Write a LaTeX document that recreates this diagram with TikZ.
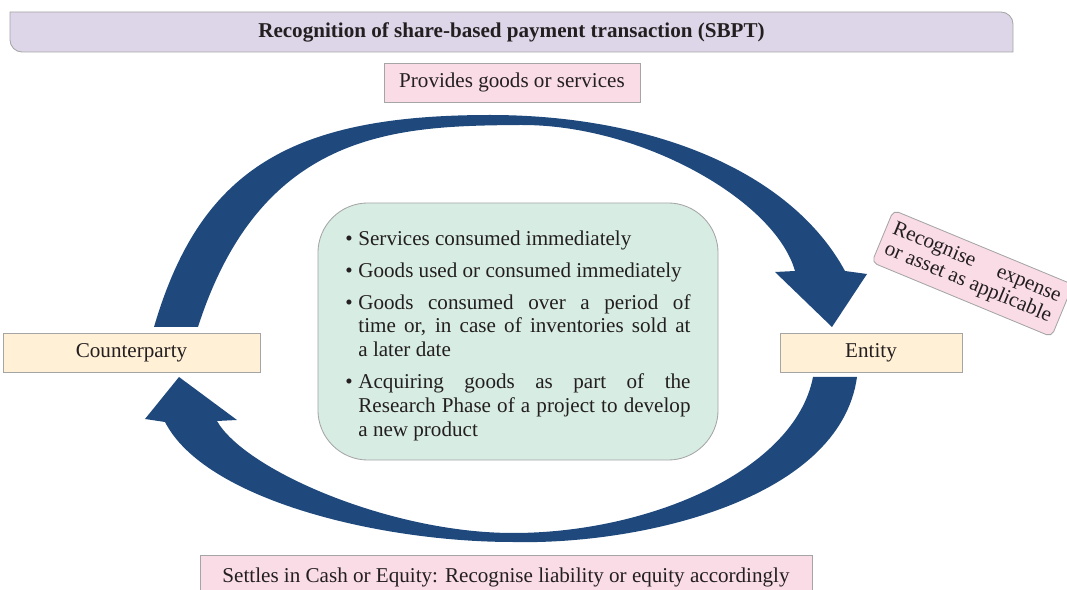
\documentclass[tikz,border=0pt]{standalone}
\usepackage{fontspec}
\setmainfont{Liberation Serif}
\usetikzlibrary{positioning,calc}
\definecolor{ArcBlue}{RGB}{31,73,125}
\definecolor{BarLilac}{RGB}{221,213,232}
\definecolor{NotePink}{RGB}{250,220,231}
\definecolor{PartyCream}{RGB}{255,240,214}
\definecolor{ListGreen}{RGB}{215,236,227}
\definecolor{EdgeGrey}{RGB}{165,165,165}
\definecolor{InkDark}{RGB}{35,31,32}
\newcommand{\boxfont}{\fontsize{15}{17}\selectfont}
\newcommand{\sbitem}[1]{\par\hangindent=9.2pt\hangafter=1\noindent\makebox[9.2pt][l]{\textbullet}#1}
\tikzset{
  barshape/.style={draw=EdgeGrey,fill=BarLilac,line width=0.6pt},
  bartext/.style={font=\boxfont\bfseries,text=InkDark,inner sep=0pt},
  pinkbox/.style={draw=EdgeGrey,fill=NotePink,line width=0.6pt,
                  minimum height=0.975cm,font=\boxfont,text=InkDark,text centered},
  creambox/.style={draw=EdgeGrey,fill=PartyCream,line width=0.6pt,
                   minimum height=0.975cm,font=\boxfont,text=InkDark,text centered},
  listbox/.style={draw=EdgeGrey,fill=ListGreen,line width=0.6pt,rounded corners=1.25cm,
                  minimum width=10cm,minimum height=6.425cm,text width=8.625cm,
                  align=justify,font=\boxfont,text=InkDark},
  notebox/.style={draw=EdgeGrey,fill=NotePink,line width=0.6pt,rounded corners=4pt,
                  text width=4.5cm,inner xsep=0.18cm,minimum height=1.41cm,
                  align=justify,font=\fontsize{15}{15.5}\selectfont,text=InkDark},
  arcfill/.style={fill=ArcBlue},
}
\begin{document}
\begin{tikzpicture}[x=0.025cm,y=-0.025cm]
\useasboundingbox (0,0) rectangle (1067,590);

% heading bar
\filldraw[barshape] (10,12) -- (1001,12) .. controls (1007.6,12) and (1013,17.4) .. (1013,24)
  -- (1013,52) -- (22,52) .. controls (15.4,52) and (10,46.6) .. (10,40) -- cycle;
\node[bartext] (title) at (511.5,32) {Recognition of share-based payment transaction (SBPT)};

\node[pinkbox,minimum width=6.4cm] (goods) at (512,82.5) {Provides goods or services};

% upper arc: counterparty to entity
\fill[arcfill] (154,327) .. controls (200,170) and (290,115) .. (490,115)
  .. controls (650,115) and (790,170) .. (845,271)
  -- (867,274) -- (832,327) -- (775,272) -- (795,271)
  .. controls (775,200) and (640,124) .. (520,125)
  .. controls (400,126) and (262,128) .. (198,327) -- cycle;

% lower arc: entity back to counterparty
\fill[arcfill] (857,377) .. controls (840,500) and (640,545) .. (513,542)
  .. controls (380,542) and (205,500) .. (165,422)
  -- (145,419) -- (179,377) -- (237,420) -- (217,421)
  .. controls (245,470) and (390,533) .. (513,533)
  .. controls (650,533) and (795,470) .. (813,377) -- cycle;

\node[creambox,minimum width=6.425cm] (party) at (131.5,352.5) {Counterparty};
\node[creambox,minimum width=4.55cm] (entity) at (871,352.5) {Entity};

\node[listbox] (cases) at (518,331.5) {%
  \setlength{\parskip}{5.5pt}%
  \sbitem{Services consumed immediately}
  \sbitem{Goods used or consumed immediately}
  \sbitem{Goods consumed over a period of\linebreak time or, in case of inventories sold at\linebreak a later date}
  \sbitem{Acquiring goods as part of the\linebreak Research Phase of a project to develop\linebreak a new product}\par
  \vspace*{5.7pt}};

\node[notebox,rotate=-22.5] (expense) at (972.5,273.5) {Recognise expense\linebreak or asset as applicable};

\node[pinkbox,minimum width=15.3cm,minimum height=1.125cm] (settle) at (506,577.5)
  {Settles in Cash or Equity: Recognise liability or equity accordingly};
\end{tikzpicture}
\end{document}
